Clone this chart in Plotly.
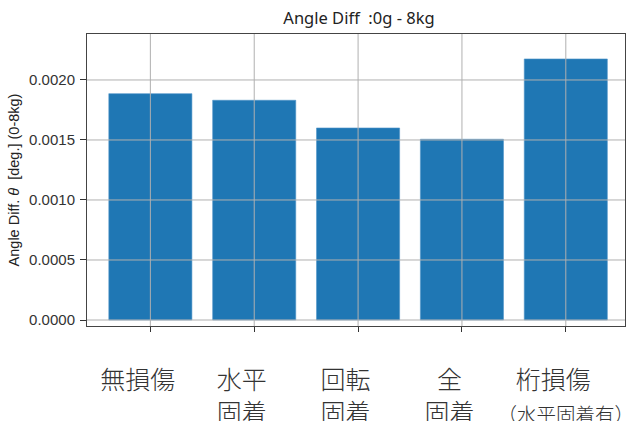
import plotly.graph_objects as go

S = "\u3000"
categories = ["無損傷" + S, "水平" + S + "<br>固着" + S, "回転" + S + "<br>固着" + S,
              "全" + S + "<br>固着" + S,
              "桁損傷" + S + "<br><span style='font-size:19.5px'>（水平固着有）</span>"]
values = [0.001886, 0.001831, 0.001600, 0.001506, 0.002175]
ytick_vals = [0.0, 0.0005, 0.0010, 0.0015, 0.0020]
ytick_text = ["0.0000", "0.0005", "0.0010", "0.0015", "0.0020"]

x_idx = list(range(len(categories)))

fig = go.Figure()
fig.add_trace(go.Bar(
    x=x_idx, y=values, width=0.8,
    marker=dict(color="#1f77b4", line=dict(color="#4f93c8", width=0.6)),
    showlegend=False,
))

grid_color = "#b0b0b0"
shapes = []
for xv in x_idx:
    shapes.append(dict(type="line", xref="x", yref="paper", x0=xv, x1=xv, y0=0, y1=1,
                       line=dict(color=grid_color, width=1), layer="above"))
for yv in ytick_vals:
    shapes.append(dict(type="line", xref="paper", yref="y", x0=0, x1=1, y0=yv, y1=yv,
                       line=dict(color=grid_color, width=1), layer="above"))

fig.update_layout(
    width=630, height=421,
    margin=dict(l=87, r=5, t=34, b=95),
    paper_bgcolor="white", plot_bgcolor="white",
    title=dict(text="Angle Diff  :0g - 8kg", x=359 / 630, xanchor="center",
               y=1 - 18 / 421, yanchor="middle",
               font=dict(family="Noto Sans", size=16.5, color="#222")),
    shapes=shapes,
    bargap=0.2,
)
fig.update_xaxes(
    range=[-0.61, 4.57],
    tickmode="array", tickvals=x_idx, ticktext=categories,
    tickfont=dict(family="Noto Sans CJK JP", size=25, color="#333", weight=300),
    tickangle=0,
    ticks="outside", ticklen=5, tickcolor="#333",
    ticklabelstandoff=27,
    ticklabeloverflow="allow",
    automargin=False,
    showline=True, linecolor="#444", linewidth=1, mirror=True,
    showgrid=False, zeroline=False,
)
fig.update_yaxes(
    range=[-0.00005, 0.002383],
    tickmode="array", tickvals=ytick_vals, ticktext=ytick_text,
    tickfont=dict(family="Liberation Sans", size=15, color="#333"),
    ticks="outside", ticklen=6, tickcolor="#333",
    ticklabelstandoff=2,
    automargin=False,
    showline=True, linecolor="#444", linewidth=1, mirror=True,
    showgrid=False, zeroline=False,
    title=dict(text="Angle Diff. <i>θ</i>  [deg.] (0-8kg)",
               font=dict(family="Liberation Sans", size=14.5, color="#222"), standoff=6),
)

fig.write_html("out.html")
